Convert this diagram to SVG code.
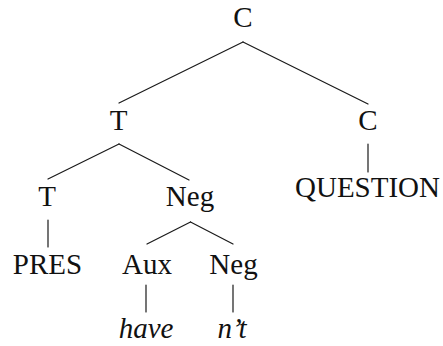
<svg xmlns="http://www.w3.org/2000/svg" width="443" height="346" viewBox="0 0 443 346">
  <style>
    text { font-size: 29px; fill: #111; text-anchor: middle; }
  </style>
  <rect width="443" height="346" fill="#fff"/>

  <!-- tree branches -->
  <g id="connectors" stroke="#1a1a1a" stroke-width="1.2" fill="none" stroke-linecap="round">
    <line x1="243" y1="42" x2="119" y2="103"/>
    <line x1="243" y1="42" x2="368" y2="104"/>
    <line x1="368" y1="144" x2="368" y2="172"/>
    <line x1="119" y1="144" x2="48" y2="179"/>
    <line x1="119" y1="144" x2="189" y2="180"/>
    <line x1="48" y1="220" x2="48" y2="247"/>
    <line x1="190.5" y1="222" x2="147" y2="244"/>
    <line x1="190.5" y1="222" x2="233" y2="244"/>
    <line x1="146" y1="285" x2="146" y2="312"/>
    <line x1="233" y1="285" x2="233" y2="312"/>
  </g>

  <!-- node labels -->
  <g id="node-c-root"><text x="243" y="27" font-family="Liberation Serif, serif" style="font-family: 'Liberation Serif', serif">C</text></g>
  <g id="node-t"><text x="118.5" y="130" font-family="Liberation Serif, serif" style="font-family: 'Liberation Serif', serif">T</text></g>
  <g id="node-c"><text x="368" y="130" font-family="Liberation Serif, serif" style="font-family: 'Liberation Serif', serif">C</text></g>
  <g id="node-question"><text x="367.5" y="197" font-family="Liberation Serif, serif" style="font-family: 'Liberation Serif', serif">QUESTION</text></g>
  <g id="node-t-head"><text x="47" y="206" font-family="Liberation Serif, serif" style="font-family: 'Liberation Serif', serif">T</text></g>
  <g id="node-neg"><text x="190" y="206" font-family="Liberation Serif, serif" style="font-family: 'Liberation Serif', serif">Neg</text></g>
  <g id="node-pres"><text x="47.5" y="274" font-family="Liberation Serif, serif" style="font-family: 'Liberation Serif', serif">PRES</text></g>
  <g id="node-aux"><text x="147" y="274" font-family="Liberation Serif, serif" style="font-family: 'Liberation Serif', serif">Aux</text></g>
  <g id="node-neg-head"><text x="233.5" y="274" font-family="Liberation Serif, serif" style="font-family: 'Liberation Serif', serif">Neg</text></g>
  <g id="node-have"><text x="146" y="338" font-family="Liberation Serif, serif" font-style="italic" style="font-family: 'Liberation Serif', serif; font-style: italic">have</text></g>
  <g id="node-nt"><text x="232" y="338" font-family="Liberation Serif, serif" font-style="italic" style="font-family: 'Liberation Serif', serif; font-style: italic">n’t</text></g>
</svg>
